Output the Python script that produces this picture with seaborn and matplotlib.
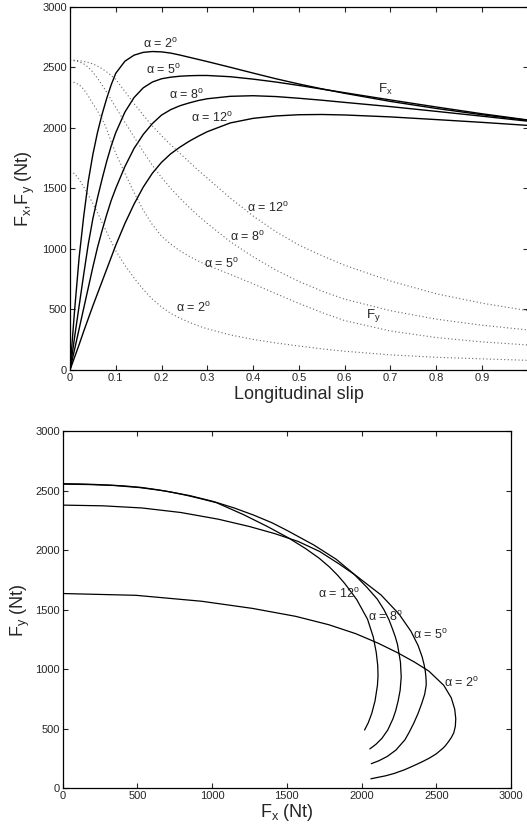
import numpy as np
import pandas as pd
import matplotlib
matplotlib.use("Agg")
import matplotlib.pyplot as plt
import seaborn as sns

# ---- data ----
slip = [0, 0.01, 0.02, 0.03, 0.04, 0.05, 0.06, 0.07, 0.08, 0.09, 0.10,
        0.12, 0.14, 0.16, 0.18, 0.20, 0.22, 0.24, 0.26, 0.28, 0.30,
        0.35, 0.40, 0.45, 0.50, 0.55, 0.60,
        0.70, 0.80, 0.90, 1.00]

fx_a2 = [0, 490, 930, 1270, 1560, 1780, 1960, 2110, 2240, 2355, 2450,
         2550, 2600, 2623, 2630, 2627, 2617, 2601, 2583, 2565, 2547,
         2500, 2452, 2405, 2362, 2322, 2285,
         2218, 2160, 2108, 2062]
fy_a2 = [1637, 1622, 1572, 1512, 1445, 1375, 1300, 1220, 1140, 1060, 985,
         865, 760, 665, 585, 520, 468, 428, 395, 365, 340,
         290, 253, 223, 198, 175, 155,
         125, 105, 92, 80]

fx_a5 = [0, 270, 530, 790, 1040, 1250, 1420, 1575, 1720, 1850, 1960,
         2130, 2250, 2330, 2378, 2405, 2418, 2426, 2430, 2432, 2432,
         2422, 2402, 2378, 2350, 2320, 2290,
         2230, 2172, 2116, 2065]
fy_a5 = [2380, 2374, 2356, 2318, 2262, 2200, 2140, 2075, 1990, 1885, 1790,
         1625, 1465, 1320, 1200, 1105, 1040, 985, 940, 900, 865,
         790, 712, 630, 550, 475, 408,
         322, 268, 232, 207]

fx_a8 = [0, 170, 340, 510, 680, 850, 1010, 1150, 1280, 1400, 1500,
         1680, 1830, 1945, 2035, 2105, 2150, 2182, 2205, 2225, 2240,
         2260, 2265, 2258, 2244, 2228, 2210,
         2175, 2136, 2096, 2055]
fy_a8 = [2556, 2553, 2545, 2528, 2500, 2460, 2410, 2355, 2295, 2232, 2168,
         2045, 1925, 1805, 1690, 1590, 1500, 1420, 1345, 1275, 1210,
         1060, 935, 825, 732, 652, 585,
         490, 420, 370, 331]

fx_a12 = [0, 105, 210, 320, 425, 530, 630, 730, 830, 930, 1030,
          1210, 1370, 1510, 1625, 1715, 1785, 1840, 1888, 1930, 1968,
          2040, 2078, 2098, 2108, 2110, 2106,
          2090, 2068, 2045, 2020]
fy_a12 = [2560, 2558, 2554, 2548, 2540, 2528, 2510, 2488, 2462, 2432, 2400,
          2300, 2200, 2105, 2015, 1935, 1860, 1790, 1720, 1650, 1585,
          1420, 1272, 1142, 1032, 945, 865,
          735, 630, 552, 490]

alphas = [2, 5, 8, 12]
fx_all = [fx_a2, fx_a5, fx_a8, fx_a12]
fy_all = [fy_a2, fy_a5, fy_a8, fy_a12]

top_xticks = [0, 0.1, 0.2, 0.3, 0.4, 0.5, 0.6, 0.7, 0.8, 0.9]
force_ticks = [0, 500, 1000, 1500, 2000, 2500, 3000]

frames = []
for a, fx, fy in zip(alphas, fx_all, fy_all):
    frames.append(pd.DataFrame({"slip": slip, "Fx": fx, "Fy": fy, "alpha": a}))
df = pd.concat(frames, ignore_index=True)

# ---- style ----
sns.set_style("ticks")
plt.rcParams["font.family"] = ["Liberation Sans", "DejaVu Sans"]
plt.rcParams["mathtext.fontset"] = "custom"
plt.rcParams["mathtext.rm"] = "Liberation Sans"
plt.rcParams["mathtext.it"] = "Liberation Sans"
plt.rcParams["xtick.direction"] = "in"
plt.rcParams["ytick.direction"] = "in"
plt.rcParams["axes.linewidth"] = 0.9

fig = plt.figure(figsize=(5.27, 8.39), dpi=100)
ax1 = fig.add_axes([0.1328, 0.559, 0.8685, 0.433])
ax2 = fig.add_axes([0.1188, 0.0604, 0.851, 0.4255])

dot_style = (0, (1, 2.2))
for a in alphas:
    sub = df[df["alpha"] == a]
    sns.lineplot(data=sub, x="slip", y="Fx", ax=ax1, color="black", lw=1.0,
                 estimator=None, sort=False, legend=False)
    sns.lineplot(data=sub, x="slip", y="Fy", ax=ax1, color="0.4", lw=0.8,
                 linestyle=dot_style, estimator=None, sort=False, legend=False)
    sns.lineplot(data=sub, x="Fx", y="Fy", ax=ax2, color="black", lw=0.9,
                 estimator=None, sort=False, legend=False)

lab_fs = 9
def deg(a):
    return "α = %d$^{\\mathrm{o}}$" % a

# top plot annotations
ax1.text(0.198, 2690, deg(2), fontsize=lab_fs, ha="center", va="center")
ax1.text(0.205, 2475, deg(5), fontsize=lab_fs, ha="center", va="center")
ax1.text(0.255, 2270, deg(8), fontsize=lab_fs, ha="center", va="center")
ax1.text(0.31, 2078, deg(12), fontsize=lab_fs, ha="center", va="center")
ax1.text(0.69, 2320, "F$_{\\mathrm{x}}$", fontsize=lab_fs + 0.5, ha="center", va="center")
ax1.text(0.432, 1335, deg(12), fontsize=lab_fs, ha="center", va="center")
ax1.text(0.388, 1095, deg(8), fontsize=lab_fs, ha="center", va="center")
ax1.text(0.33, 880, deg(5), fontsize=lab_fs, ha="center", va="center")
ax1.text(0.27, 509, deg(2), fontsize=lab_fs, ha="center", va="center")
ax1.text(0.662, 450, "F$_{\\mathrm{y}}$", fontsize=lab_fs + 0.5, ha="center", va="center")

# bottom plot annotations
ax2.text(1852, 1638, deg(12), fontsize=lab_fs, ha="center", va="center")
ax2.text(2161, 1442, deg(8), fontsize=lab_fs, ha="center", va="center")
ax2.text(2460, 1288, deg(5), fontsize=lab_fs, ha="center", va="center")
ax2.text(2670, 882, deg(2), fontsize=lab_fs, ha="center", va="center")

for ax in (ax1, ax2):
    ax.tick_params(axis="both", which="both", top=True, right=True,
                   labelsize=8, length=3.5, width=0.8, pad=2)
    for sp in ax.spines.values():
        sp.set_visible(True)
        sp.set_color("black")
    ax.set_ylim(0, 3000)
    ax.set_yticks(force_ticks)
    ax.set_yticklabels([str(t) for t in force_ticks])

ax1.set_xlim(0, 1)
ax1.set_xticks(top_xticks)
ax1.set_xticklabels(["0"] + ["%.1f" % t for t in top_xticks[1:]])
ax1.set_xlabel("Longitudinal slip", fontsize=13, labelpad=2)
ax1.set_ylabel("F$_{\\mathrm{x}}$,F$_{\\mathrm{y}}$ (Nt)", fontsize=13, labelpad=4)

ax2.set_xlim(0, 3000)
ax2.set_xticks(force_ticks)
ax2.set_xticklabels([str(t) for t in force_ticks])
ax2.set_xlabel("F$_{\\mathrm{x}}$ (Nt)", fontsize=13, labelpad=1)
ax2.set_ylabel("F$_{\\mathrm{y}}$ (Nt)", fontsize=13, labelpad=2)

fig.savefig("out.png", dpi=100)
